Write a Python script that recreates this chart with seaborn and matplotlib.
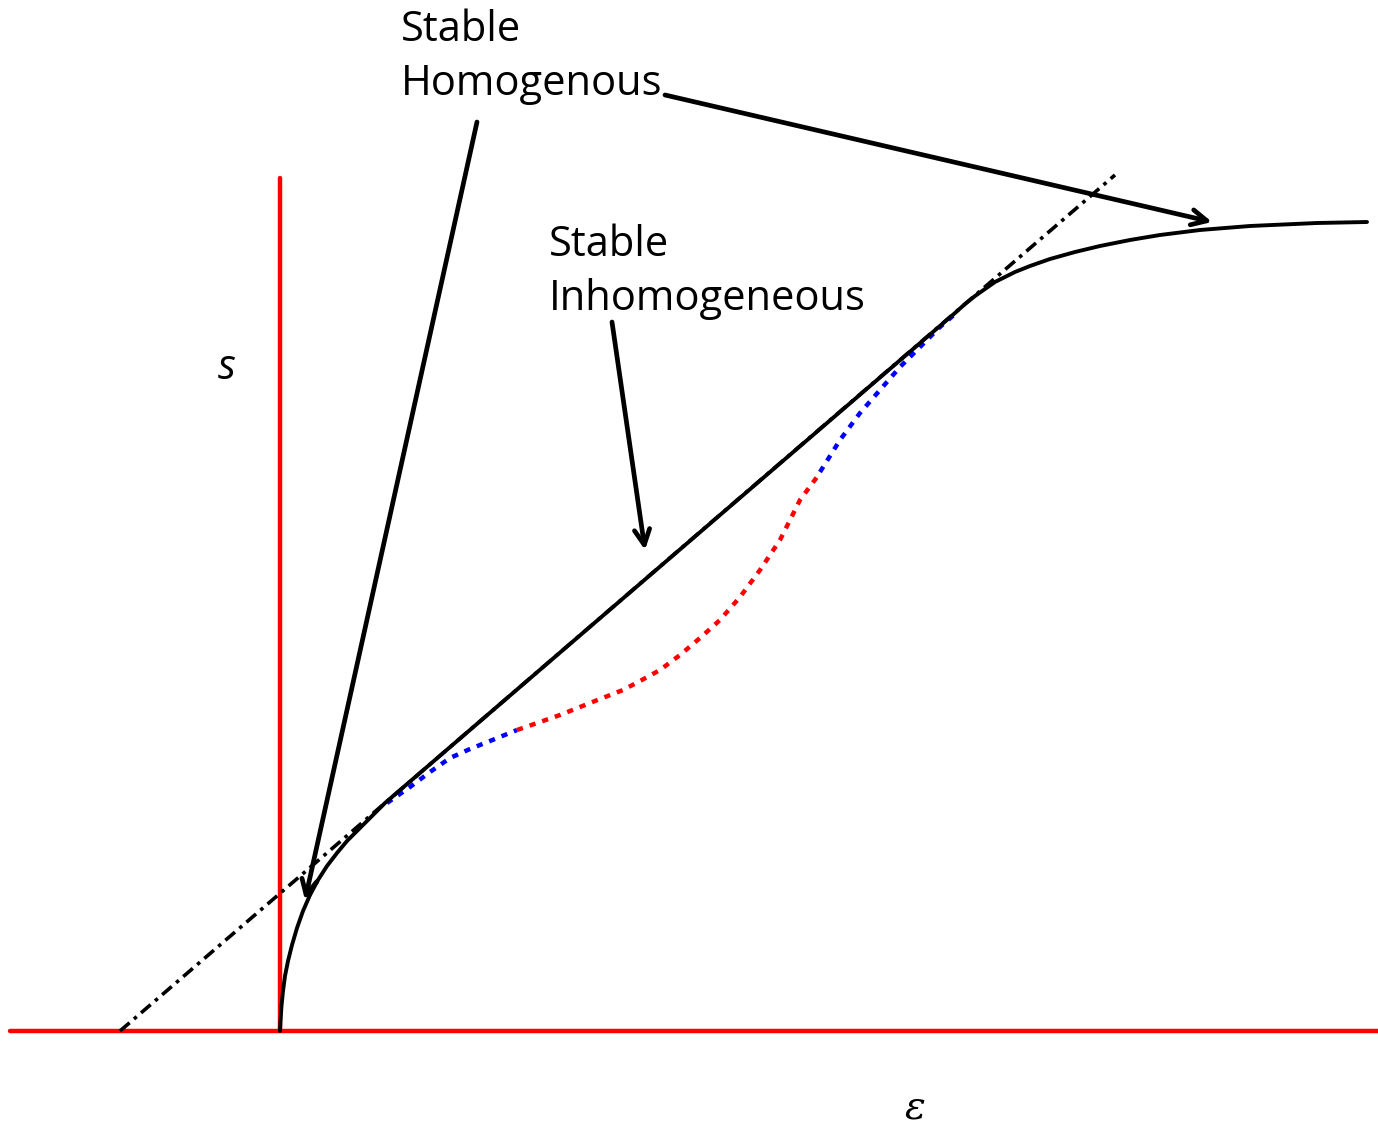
import numpy as np
import pandas as pd
import matplotlib
matplotlib.use("Agg")
import matplotlib.pyplot as plt
import seaborn as sns

# ---- data (diagram units: eps to the right of the red vertical axis, s above the red horizontal axis)
curve_eps = [0, 0.5, 1.5, 3, 5, 8, 12, 17, 23, 30, 38, 47, 57, 67, 78, 90, 105,
             675, 685, 695, 705, 715, 725, 735, 750, 770, 795, 820, 850, 880, 920, 970, 1037, 1087]
curve_s = [0, 10, 25, 40, 55, 70, 86, 103, 120, 136, 151, 165, 178, 190, 201, 213, 228,
           718, 727, 735, 742, 749, 754, 759, 765, 772, 779, 785, 791, 796, 801, 805, 808, 809]

blue1_eps = [107, 130, 150, 170, 190, 210, 237]
blue1_s = [228, 244, 259, 273, 282, 290, 301]

red_eps = [237, 260, 280, 320, 343, 360, 380, 400, 420, 440, 460, 480, 500, 520, 537, 540]
red_s = [301, 309, 316, 332, 341, 350, 361, 376, 393, 411, 434, 461, 491, 531, 554, 559]

blue2_eps = [540, 560, 580, 600, 620, 640, 660, 675]
blue2_s = [559, 591, 618, 641, 664, 684, 704, 717]

tangent_eps = [-160, 835]
tangent_s = [0, 856]

axis_h_eps = [-270, 1098]
axis_h_s = [0, 0]
axis_v_eps = [0, 0]
axis_v_s = [0, 853]

# arrows: (tail, head)
arrow_tails = [(197, 909), (385, 936), (332, 709)]
arrow_heads = [(25, 131), (932, 809), (365, 481)]

label_homog = "Stable\nHomogenous"
label_inhomog = "Stable\nInhomogeneous"
label_homog_pos = (121, 1022)
label_inhomog_pos = (269, 807)
s_label_pos = (-53, 663)
eps_label_pos = (635, -77)

# ---- figure
sns.set_style("white")
fig = plt.figure(figsize=(13.78, 11.26), dpi=100)
ax = fig.add_axes([0, 0, 1, 1])
ax.set_xlim(-280, 1098)
ax.set_ylim(-95, 1031)
ax.set_axis_off()

def df(x, y):
    return pd.DataFrame({"x": x, "y": y})

common = dict(ax=ax, sort=False, estimator=None, legend=False)

sns.lineplot(data=df(axis_h_eps, axis_h_s), x="x", y="y", color="#ff0000", lw=3.2, **common)
sns.lineplot(data=df(axis_v_eps, axis_v_s), x="x", y="y", color="#ff0000", lw=3.2, orient="y", **common)

sns.lineplot(data=df(tangent_eps, tangent_s), x="x", y="y", color="black", lw=2.6,
             linestyle=(0, (3.5, 1.6, 1.0, 1.6)), **common)

dot = (0, (1.4, 1.6))
sns.lineplot(data=df(blue1_eps, blue1_s), x="x", y="y", color="#0000ff", lw=3.2, linestyle=dot, **common)
sns.lineplot(data=df(red_eps, red_s), x="x", y="y", color="#ff0000", lw=3.2, linestyle=dot, **common)
sns.lineplot(data=df(blue2_eps, blue2_s), x="x", y="y", color="#0000ff", lw=3.2, linestyle=dot, **common)

sns.lineplot(data=df(curve_eps, curve_s), x="x", y="y", color="black", lw=2.8, **common)

for t, h in zip(arrow_tails, arrow_heads):
    ax.annotate("", xy=h, xytext=t,
                arrowprops=dict(arrowstyle="->,head_length=1.1,head_width=0.55",
                                color="black", lw=3.4, shrinkA=0, shrinkB=0))

font = "Open Sans"
ax.text(*label_homog_pos, label_homog, fontsize=30, family=font, va="top", ha="left",
        linespacing=1.38, color="black")
ax.text(*label_inhomog_pos, label_inhomog, fontsize=30, family=font, va="top", ha="left",
        linespacing=1.38, color="black")
ax.text(*s_label_pos, "s", fontsize=30, family=font, style="italic", ha="center", va="center",
        color="black")
ax.text(*eps_label_pos, "ε", fontsize=28, family="DejaVu Serif", style="italic", ha="center",
        va="center", color="black")

fig.savefig("out.png", dpi=100)
